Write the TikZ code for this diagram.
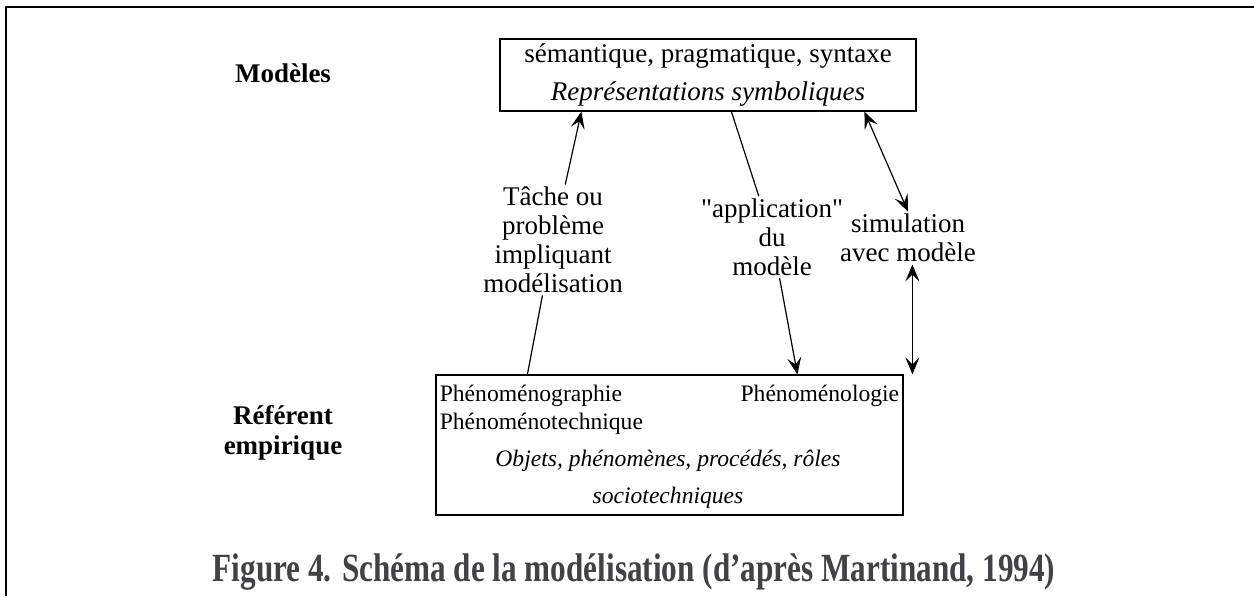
\documentclass[tikz,border=0pt]{standalone}
\usepackage{fontspec}
\setmainfont{Liberation Serif}[Ligatures=TeXOff]
\usetikzlibrary{arrows.meta,positioning}

\definecolor{captiongray}{RGB}{66,66,70}

\tikzset{
  box/.style={draw,line width=0.6pt,inner sep=0pt},
  lbl/.style={font=\fontsize{13.5}{14.5}\selectfont,align=center,inner sep=1pt},
  level/.style={font=\fontsize{13.5}{15}\selectfont\bfseries,align=center},
  link/.style={line width=0.6pt}
}

\begin{document}
\begin{tikzpicture}[x=0.5pt,y=-0.5pt,>={Stealth[length=8.5pt,width=7pt,inset=3.5pt]}]

    \useasboundingbox (0,0) rectangle (1254,596);
    \draw[line width=1.1pt] (6,596) -- (6,7) -- (1254,7);

    % boxes
    \node[box,minimum width=208pt,minimum height=36pt,align=center,
          font=\fontsize{13.5}{16}\selectfont] (modeles) at (708,75)
          {s\'emantique, pragmatique, syntaxe\\[3pt]\textit{Repr\'esentations symboliques}};
    \node[box,minimum width=233.5pt,minimum height=70pt] (referent) at (669.5,445) {};

    \node[anchor=north west,align=left,inner sep=2pt,yshift=-3pt,
          font=\fontsize{11.8}{14.2}\selectfont] (graph) at (referent.north west)
          {Ph\'enom\'enographie\\Ph\'enom\'enotechnique};
    \node[anchor=north east,inner sep=2pt,yshift=-3pt,font=\fontsize{11.8}{14}\selectfont]
          (logie) at (referent.north east) {Ph\'enom\'enologie};
    \node[align=center,font=\fontsize{11.8}{18.5}\selectfont\itshape] (objets) at (668,479)
          {Objets, ph\'enom\`enes, proc\'ed\'es, r\^oles\\sociotechniques};

    % levels
    \node[level] (lmod) at (283,73) {Mod\`eles};
    \node[level] (lref) at (283,433) {R\'ef\'erent\\empirique};

    % labels
    \node[lbl] (tache) at (553,240) {T\^ache ou\\probl\`eme\\impliquant\\mod\'elisation};
    \node[lbl] (appli) at (772,237) {"application"\\du\\mod\`ele};
    \node[lbl] (simul) at (908,238) {simulation\\avec mod\`ele};

    % contact points
    \coordinate (mA) at ([xshift=41pt]modeles.south west);
    \coordinate (mB) at ([xshift=116pt]modeles.south west);
    \coordinate (mC) at ([xshift=182.5pt]modeles.south west);
    \coordinate (rA) at ([xshift=46pt]referent.north west);
    \coordinate (rB) at ([xshift=181pt]referent.north west);
    \coordinate (rC) at ([xshift=238.5pt]referent.north west);

    \draw[link,->] (tache) -- (mA);
    \draw[link] (tache) -- (rA);
    \draw[link] (mB) -- (appli);
    \draw[link,->] (appli) -- (rB);
    \draw[link,<->] (mC) -- (simul.north);
    \draw[link,<->] (simul.south -| rC) -- (rC);

    \node[font=\fontsize{20}{22}\selectfont\bfseries,text=captiongray,
          xscale=0.78,transform shape] (caption) at (634,572)
          {Figure 4. Sch\'ema de la mod\'elisation (d’apr\`es Martinand, 1994)};

\end{tikzpicture}
\end{document}
